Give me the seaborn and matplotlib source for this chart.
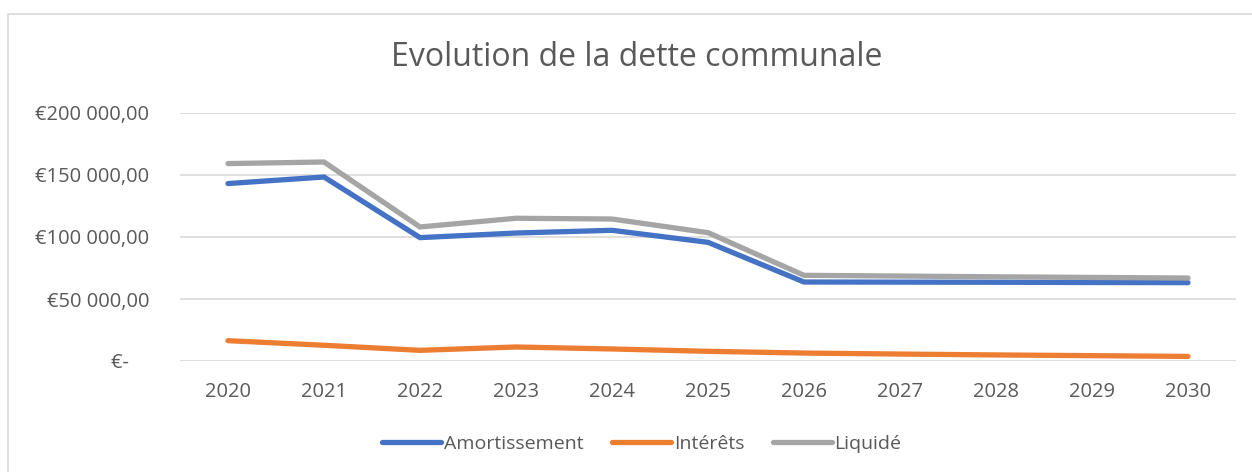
import pandas as pd
import matplotlib
matplotlib.use("Agg")
import matplotlib.pyplot as plt
import seaborn as sns
from matplotlib.ticker import FuncFormatter
from matplotlib.patches import Rectangle

# ===============================
# DATA
# ===============================
years = ["2020", "2021", "2022", "2023", "2024", "2025", "2026", "2027", "2028", "2029", "2030"]
amortissement = [143100, 148400, 99500, 103200, 105400, 95700, 63700, 63600, 63500, 63300, 63200]
interets = [16400, 12700, 8600, 11300, 9700, 7800, 6400, 5600, 4900, 4300, 3700]
liquide = [159200, 160500, 108100, 115100, 114500, 103500, 69100, 68500, 67900, 67400, 66900]
series_names = ["Amortissement", "Intérêts", "Liquidé"]
colors = ["#4472C4", "#ED7D31", "#A5A5A5"]

df = pd.DataFrame({
    "annee": years * 3,
    "montant": amortissement + interets + liquide,
    "serie": [s for s in series_names for _ in years],
})

# ===============================
# PLOT
# ===============================
sns.set_theme(style="white")
plt.rcParams["font.family"] = ["Open Sans", "DejaVu Sans"]

fig = plt.figure(figsize=(12.52, 4.72), dpi=100)
ax = fig.add_axes([180 / 1252, 1 - 361 / 472, (1236 - 180) / 1252, (361 - 113) / 472])

sns.lineplot(data=df, x="annee", y="montant", hue="serie", palette=colors,
             linewidth=3.8, sort=False, ax=ax, legend=False)
for line in ax.lines:
    line.set_solid_capstyle("round")
    line.set_solid_joinstyle("miter")

ax.set_xlim(-0.5, len(years) - 0.5)
ax.set_ylim(0, 200000)
ax.set_yticks([0, 50000, 100000, 150000, 200000])


def euro(v, pos):
    if v == 0:
        return "€-    "
    return "€" + f"{int(v):,}".replace(",", " ") + ",00"


ax.yaxis.set_major_formatter(FuncFormatter(euro))
ax.grid(axis="y", color="#D9D9D9", linewidth=1.2)
ax.grid(axis="x", visible=False)
ax.set_axisbelow(True)
for side in ["left", "right", "top", "bottom"]:
    ax.spines[side].set_visible(False)
ax.tick_params(axis="both", length=0, labelsize=14.5, labelcolor="#595959")
ax.tick_params(axis="y", pad=22)
ax.tick_params(axis="x", pad=15)
ax.set_xlabel("")
ax.set_ylabel("")

fig.text(637 / 1252, 1 - 57 / 472, "Evolution de la dette communale",
         ha="center", va="center", fontsize=23, color="#595959")

handles = [plt.Line2D([0], [0], color=c, linewidth=3.8, solid_capstyle="round") for c in colors]
fig.legend(handles, series_names, loc="center", bbox_to_anchor=(642 / 1252, 1 - 444 / 472),
           ncol=3, frameon=False, fontsize=14, labelcolor="#595959",
           handlelength=3.0, handletextpad=0.15, columnspacing=1.5)

# chart border (runs off the right and bottom edges, as in the reference)
fig.patches.append(Rectangle((8 / 1252, -0.1), 1.2, 1.1 - 14 / 472, transform=fig.transFigure,
                             fill=False, edgecolor="#D9D9D9", linewidth=1.2))

fig.savefig("out.png", dpi=100, facecolor="white")
